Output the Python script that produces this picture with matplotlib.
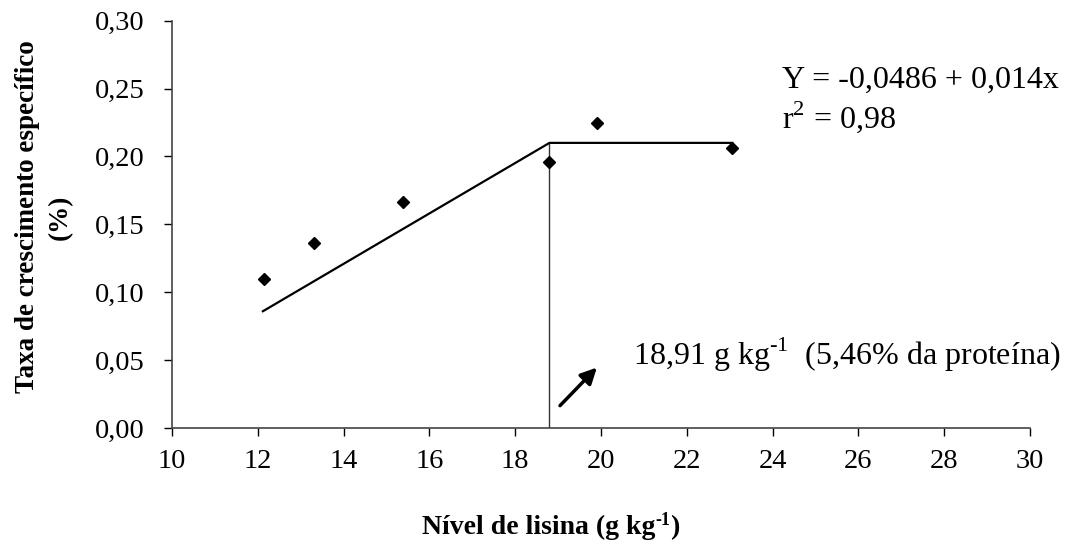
import matplotlib.pyplot as plt
import numpy as np

plt.rcParams['font.family'] = ['Liberation Serif', 'DejaVu Serif']
plt.rcParams['mathtext.fontset'] = 'custom'
plt.rcParams['mathtext.rm'] = 'Liberation Serif'
plt.rcParams['mathtext.bf'] = 'Liberation Serif:bold'

# Observed points
lys = [12.14, 13.32, 15.39, 18.80, 19.90, 23.06]
sgr = [0.1095, 0.136, 0.1667, 0.196, 0.225, 0.206]

# Broken-line fit (linear plateau)
fit_x = [12.12, 18.80, 23.06]
fit_y = [0.086, 0.210, 0.210]
break_x = 18.80

xticks = np.arange(10, 31, 2)
yticks = np.arange(0, 0.301, 0.05)

fig = plt.figure(figsize=(10.7, 5.44), dpi=100)
ax = fig.add_axes([0.1607, 0.2132, 0.8019, 0.7488])

ax.plot(fit_x, fit_y, color='black', lw=1.6, zorder=2)
ax.plot([break_x, break_x], [0, fit_y[1]], color='#333333', lw=1.0, zorder=1)
ax.plot(lys, sgr, linestyle='none', marker='D', ms=6.5, color='black', zorder=3)

ax.set_xlim(10, 30)
ax.set_ylim(0, 0.30)
ax.set_xticks(xticks)
ax.set_yticks(yticks)
ax.set_xticklabels([str(v) for v in xticks])
ax.set_yticklabels([f'{v:.2f}'.replace('.', ',') for v in yticks])
ax.tick_params(axis='both', direction='out', length=6, width=1, colors='black',
               labelsize=20.5)
ax.tick_params(axis='y', pad=14)
ax.tick_params(axis='x', pad=9)

for s in ['top', 'right']:
    ax.spines[s].set_visible(False)
for s in ['left', 'bottom']:
    ax.spines[s].set_color('#444444')
    ax.spines[s].set_linewidth(1.2)

ax.text(24.22, 0.256, 'Y = -0,0486 + 0,014x', fontsize=23, va='center', ha='left')
ax.text(24.22, 0.229, 'r$^{2}$ = 0,98', fontsize=23, va='center', ha='left')

ax.annotate('', xy=(19.95, 0.046), xytext=(19.0, 0.015),
            arrowprops=dict(arrowstyle='-|>', color='black', lw=2.5,
                            mutation_scale=24))
ax.text(20.75, 0.0538, r'18,91 g kg$^{\text{-1}}$  (5,46% da proteína)', fontsize=23,
        va='center', ha='left')

# x label in three bold pieces so the superscript stays bold
renderer = fig.canvas.get_renderer()
pieces = [('Nível de lisina (g kg', 20, 0), ('-1', 13, 9), (')', 20, 0)]
arts, widths = [], []
for s, fs, dy in pieces:
    t = fig.text(0, 0, s, fontsize=fs, fontweight='bold', ha='left',
                 va='baseline')
    arts.append(t)
    widths.append(t.get_window_extent(renderer).width)
x0 = 551 - sum(widths) / 2
base = 544 - 534
for t, w, (s, fs, dy) in zip(arts, widths, pieces):
    t.set_position((x0 / 1070, (base + dy) / 544))
    x0 += w

fig.text(44 / 1070, 1 - 217 / 544, 'Taxa de crescimento específico\n(%)',
         fontsize=19.5, fontweight='bold', ha='center', va='center',
         rotation=90, linespacing=1.4)

fig.savefig('out.png', dpi=100)
